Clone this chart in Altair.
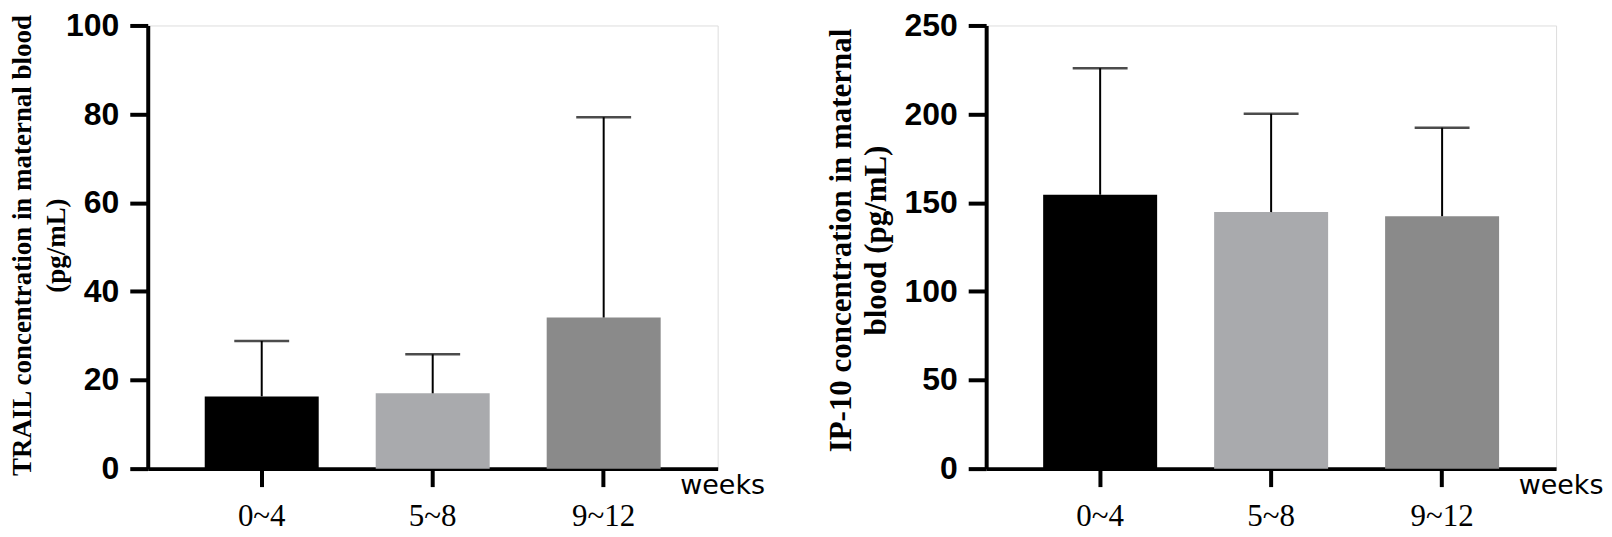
import altair as alt
import pandas as pd

weeks = ["0~4", "5~8", "9~12"]
bar_colors = ["#000000", "#a9aaad", "#8a8a8a"]

trail_mean = [16.3, 17.0, 34.1]
trail_upper = [28.8, 25.8, 79.3]
trail_ticks = [0, 20, 40, 60, 80, 100]
trail_title = ["TRAIL concentration in maternal blood", "(pg/mL)"]

ip10_mean = [154.5, 144.7, 142.4]
ip10_upper = [225.9, 200.2, 192.3]
ip10_ticks = [0, 50, 100, 150, 200, 250]
ip10_title = ["IP-10 concentration in maternal", "blood (pg/mL)"]


def panel(means, uppers, ticks, title_lines, title_size, title_x, title_y, title_lh):
    df = pd.DataFrame({"week": weeks, "mean": means, "upper": uppers})
    x_axis = alt.Axis(
        title="weeks", labelAngle=0, labelFont="Liberation Serif", labelFontSize=31,
        labelFontWeight="normal", labelColor="black", labelPadding=15,
        tickSize=18, tickWidth=4, tickColor="black",
        domainWidth=4, domainColor="black",
        titleFont="DejaVu Sans", titleFontSize=27, titleFontWeight="normal",
        titleColor="black", titleX=533, titleY=17, titleAlign="left",
        titleBaseline="middle",
    )
    y_axis = alt.Axis(
        title=title_lines, values=ticks, labelFont="Liberation Sans", labelFontSize=32,
        labelFontWeight="bold", labelColor="black", labelPadding=11,
        tickSize=18, tickWidth=4, tickColor="black",
        domainWidth=4, domainColor="black", grid=False,
        titleFont="Liberation Serif", titleFontSize=title_size, titleFontWeight="bold",
        titleColor="black", titleX=title_x, titleY=title_y, titleAngle=270,
        titleAlign="center", titleBaseline="alphabetic", titleLineHeight=title_lh,
    )
    x_enc = alt.X("week:N", sort=weeks,
                  scale=alt.Scale(paddingInner=1 / 3, paddingOuter=1 / 3), axis=x_axis)
    y_scale = alt.Scale(domain=[0, ticks[-1]], nice=False)
    base = alt.Chart(df)
    bars = base.mark_bar().encode(
        x=x_enc,
        y=alt.Y("mean:Q", scale=y_scale, axis=y_axis),
        color=alt.Color("week:N", sort=weeks,
                        scale=alt.Scale(domain=weeks, range=bar_colors), legend=None),
    )
    rule = base.mark_rule(color="black", strokeWidth=2).encode(
        x=x_enc,
        y=alt.Y("mean:Q", scale=y_scale, axis=y_axis),
        y2="upper:Q",
    )
    cap = base.mark_tick(color="black", thickness=2.5, size=55).encode(
        x=x_enc,
        y=alt.Y("upper:Q", scale=y_scale, axis=y_axis),
    )
    return alt.layer(bars, rule, cap).properties(width=571, height=444)


left = panel(trail_mean, trail_upper, trail_ticks, trail_title, 27, -117, 220, 34)
right = panel(ip10_mean, ip10_upper, ip10_ticks, ip10_title, 31, -136, 215, 35)

chart = alt.hconcat(left, right, spacing=269, bounds="flush").properties(
    padding={"left": 0, "top": 0, "right": 0, "bottom": 0}
).configure_view(stroke=None).configure(background="white")

chart.save("out.html", embed_options={"renderer": "svg", "actions": False})
